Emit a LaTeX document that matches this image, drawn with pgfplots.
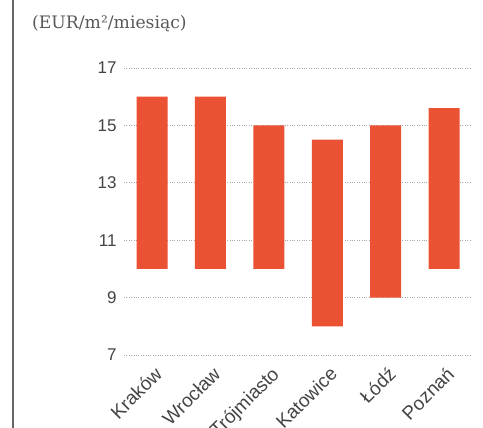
\documentclass[border=0pt]{standalone}
\usepackage{fontspec}
\setmainfont{DejaVu Serif}
\newfontfamily\sansf{Liberation Sans}
\usepackage{pgfplots}
\usepackage{pgfplotstable}
\pgfplotsset{compat=1.18}
\definecolor{barred}{HTML}{EB5233}
\definecolor{ticktext}{HTML}{444444}
\definecolor{gridgray}{HTML}{A8A8A8}

% low / high rent range per city
\pgfplotstableread{
x low high
0 10 16
1 10 16
2 10 15
3 8 14.5
4 9 15
5 10 15.6
}\rents

\begin{document}
\begin{tikzpicture}[x=1pt,y=1pt]
\useasboundingbox (0,0) rectangle (483,428);
\draw[color=black!60, line width=1.2pt] (13,0) -- (13,428);
\node[anchor=west, font=\fontsize{17.2}{20}\selectfont, text=black!65, inner sep=0pt] at (32,404) {(EUR/m²/miesiąc)};
\begin{axis}[
  at={(124pt,73pt)}, anchor=south west,
  scale only axis, width=347pt, height=287pt,
  xmin=-0.48, xmax=5.46, ymin=7, ymax=17,
  ybar stacked, bar width=31pt,
  axis line style={draw=none},
  major tick length=0pt,
  xtick={0,1,2,3,4,5},
  xticklabels={Kraków,Wrocław,Trójmiasto,Katowice,Łódź,Poznań},
  ytick={7,9,11,13,15,17},
  ymajorgrids,
  grid style={gridgray, dotted, line width=0.8pt},
  tick label style={font=\sansf\fontsize{17}{20}\selectfont, text=ticktext},
  /pgf/number format/assume math mode=true,
  yticklabel style={xshift=-4pt},
  xticklabel style={rotate=45, anchor=north east, xshift=-3pt, yshift=-5pt, font=\sansf\fontsize{19}{22}\selectfont},
  clip=false,
]
\addplot[draw=none, fill=none] table[x=x, y=low] {\rents};
\addplot[draw=none, fill=barred] table[x=x, y expr=\thisrow{high}-\thisrow{low}] {\rents};
\end{axis}
\end{tikzpicture}
\end{document}
